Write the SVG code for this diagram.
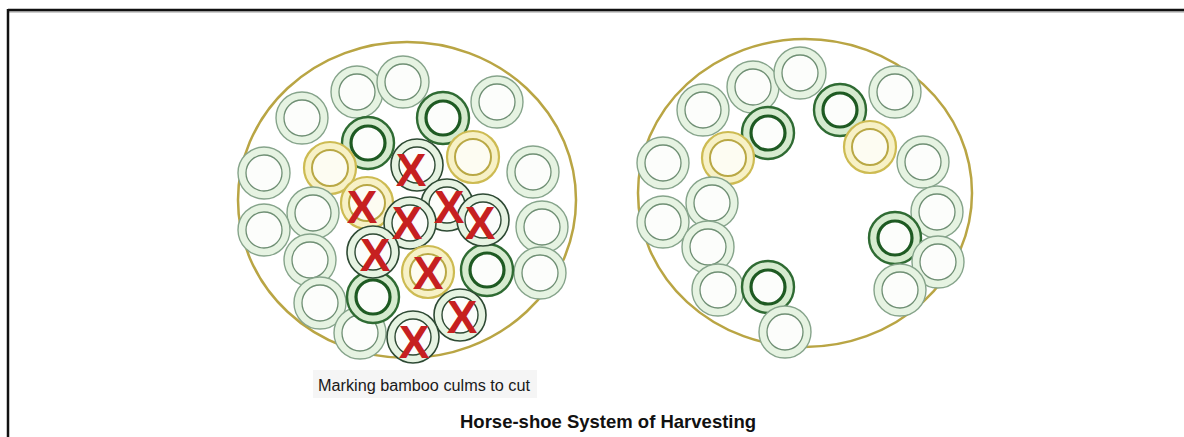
<svg xmlns="http://www.w3.org/2000/svg" width="1184" height="437" viewBox="0 0 1184 437">
<defs>
<style>
.bg{fill:#ffffff}
.frame{stroke:#111;stroke-width:2.5;fill:none}
.shadow{stroke:#bdbdbd;stroke-width:1.5;fill:none}
.clump{fill:#ffffff;stroke:#b9a544;stroke-width:2.5}
.lo{fill:#e6f3e2;stroke:#86a48b;stroke-width:1.4}
.li{fill:#fcfdfb;stroke:#6f8f74;stroke-width:1.3}
.do{fill:#d6ebcf;stroke:#2f6b33;stroke-width:2.4}
.di{fill:#fcfdfb;stroke:#1e5a22;stroke-width:3.2}
.yo{fill:#f7f1c6;stroke:#cdbb52;stroke-width:2.2}
.yi{fill:#fdfcf2;stroke:#b9a845;stroke-width:2}
.x{font-family:"Liberation Sans",Arial,sans-serif;font-weight:bold;font-size:46px;fill:#c62020;text-anchor:middle}
.cap{font-family:"Liberation Sans",Arial,sans-serif;font-size:16px;fill:#1a1a1a}
.title{font-family:"Liberation Sans",Arial,sans-serif;font-weight:bold;font-size:18.5px;fill:#111}
</style>
<g id="L"><circle r="26" class="lo"/><circle r="18" class="li"/></g>
<g id="D"><circle r="26" class="do"/><circle r="17" class="di"/></g>
<g id="Y"><circle r="26" class="yo"/><circle r="18" class="yi"/></g>
<g id="K"><circle r="26" class="lo" style="stroke:#2e4a34;stroke-width:1.6"/><circle r="18" class="li" style="stroke:#2e4a34;stroke-width:1.4"/></g>
</defs>
<rect class="bg" x="0" y="0" width="1184" height="437"/>
<g id="frame">
<line class="shadow" x1="9" y1="12" x2="1184" y2="12"/>
<line class="frame" x1="8" y1="10" x2="1184" y2="10"/>
<line class="frame" x1="8" y1="9" x2="8" y2="437"/>
</g>

<g id="left-clump">
<ellipse class="clump" cx="407" cy="200" rx="169" ry="158"/>
<use href="#L" x="302" y="118"/>
<use href="#L" x="357" y="92"/>
<use href="#L" x="403" y="82"/>
<use href="#L" x="497" y="102"/>
<use href="#D" x="443" y="118"/>
<use href="#D" x="368" y="143"/>
<use href="#Y" x="330" y="168"/>
<use href="#Y" x="473" y="157"/>
<use href="#L" x="264" y="173"/>
<use href="#L" x="533" y="172"/>
<use href="#L" x="313" y="213"/>
<use href="#L" x="264" y="230"/>
<use href="#L" x="542" y="227"/>
<use href="#L" x="310" y="260"/>
<use href="#L" x="540" y="273"/>
<use href="#L" x="320" y="303"/>
<use href="#L" x="360" y="333"/>
<use href="#D" x="487" y="270"/>
<use href="#D" x="373" y="297"/>
<g id="marked">
<use href="#K" x="417" y="165"/>
<use href="#Y" x="367" y="203"/>
<use href="#K" x="447" y="205"/>
<use href="#K" x="483" y="220"/>
<use href="#K" x="410" y="223"/>
<use href="#K" x="373" y="252"/>
<use href="#Y" x="428" y="272"/>
<use href="#K" x="460" y="315"/>
<use href="#K" x="413" y="337"/>
<text class="x" x="411" y="186">X</text>
<text class="x" x="362" y="223">X</text>
<text class="x" x="449" y="223">X</text>
<text class="x" x="480" y="239">X</text>
<text class="x" x="407" y="239">X</text>
<text class="x" x="375" y="271">X</text>
<text class="x" x="428" y="289">X</text>
<text class="x" x="462" y="333">X</text>
<text class="x" x="414" y="358">X</text>
</g>
</g>

<g id="right-clump">
<ellipse class="clump" cx="805" cy="193" rx="167" ry="154"/>
<use href="#L" x="703" y="110"/>
<use href="#L" x="753" y="87"/>
<use href="#L" x="800" y="73"/>
<use href="#L" x="895" y="92"/>
<use href="#D" x="840" y="110"/>
<use href="#D" x="768" y="133"/>
<use href="#Y" x="728" y="158"/>
<use href="#Y" x="870" y="147"/>
<use href="#L" x="663" y="163"/>
<use href="#L" x="923" y="162"/>
<use href="#L" x="712" y="203"/>
<use href="#L" x="663" y="222"/>
<use href="#L" x="937" y="212"/>
<use href="#L" x="708" y="247"/>
<use href="#D" x="895" y="238"/>
<use href="#L" x="938" y="262"/>
<use href="#L" x="718" y="290"/>
<use href="#D" x="768" y="287"/>
<use href="#L" x="900" y="290"/>
<use href="#L" x="785" y="332"/>
</g>

<g id="labels">
<rect x="313" y="370" width="224" height="28" fill="#f5f5f5"/>
<text class="cap" x="318" y="391" textLength="212" lengthAdjust="spacingAndGlyphs">Marking bamboo culms to cut</text>
<text class="title" x="460" y="428">Horse-shoe System of Harvesting</text>
</g>
</svg>
